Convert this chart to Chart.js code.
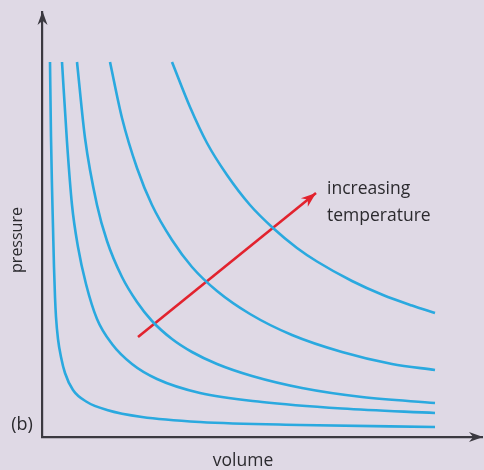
<!DOCTYPE html>
<html>
<head>
<meta charset="utf-8">
<script src="https://cdn.jsdelivr.net/npm/chart.js@4.4.1/dist/chart.umd.min.js"></script>
<style>
  html, body { margin: 0; padding: 0; background: #dfd9e5; }
  canvas { display: block; }
</style>
</head>
<body>
<canvas id="isotherms" width="484" height="470"></canvas>
<script>
// volume / pressure readings for each isotherm, coolest first
var iso1V = [8, 9, 10, 11, 12, 13, 14, 16, 19, 23, 31, 45, 65, 100, 158, 258, 393];
var iso1P = [375, 300, 250, 210, 170, 140, 120, 98, 80, 64, 47, 35, 27, 20, 15, 12, 10];
var iso2V = [20, 25, 30, 36, 44, 55, 70, 90, 115, 158, 220, 300, 393];
var iso2P = [375, 295, 232, 190, 153, 118, 93, 73, 58, 44, 35, 28.5, 24];
var iso3V = [35, 43, 55, 65, 80, 95, 110, 130, 150, 175, 210, 260, 320, 393];
var iso3P = [375, 299, 232, 196, 160, 135, 116, 98, 85, 73, 61, 49, 40, 34];
var iso4V = [68, 80, 95, 110, 130, 150, 175, 208, 250, 300, 350, 393];
var iso4P = [375, 319, 269, 232, 197, 170, 146, 123, 102, 85, 73, 67];
var iso5V = [130, 148, 165, 185, 208, 231, 255, 275, 310, 341, 370, 393];
var iso5P = [375, 330, 294, 262, 232, 209, 189, 175.5, 156, 142, 131.5, 124];

// "increasing temperature" arrow
var arrowV = [96, 274];
var arrowP = [100, 244];

var axisColor = '#3b3940';
var curveColor = '#2aa9df';
var arrowColor = '#e2232e';
var textColor = '#2b2a2e';

function pts(v, p) {
    return v.map(function (x, i) { return { x: x, y: p[i] }; });
}

function curve(v, p) {
    return {
        data: pts(v, p),
        showLine: true,
        borderColor: curveColor,
        borderWidth: 2.6,
        pointRadius: 0,
        cubicInterpolationMode: 'monotone',
        fill: false
    };
}

function head(ctx, x, y, ang, len, wid, color) {
    ctx.save();
    ctx.translate(x, y);
    ctx.rotate(ang);
    ctx.fillStyle = color;
    ctx.beginPath();
    ctx.moveTo(0, 0);
    ctx.lineTo(-len, -wid / 2);
    ctx.lineTo(-len * 0.7, 0);
    ctx.lineTo(-len, wid / 2);
    ctx.closePath();
    ctx.fill();
    ctx.restore();
}

var decor = {
    id: 'decor',
    beforeDraw: function (chart) {
        var ctx = chart.ctx;
        ctx.save();
        ctx.fillStyle = '#dfd9e5';
        ctx.fillRect(0, 0, chart.width, chart.height);
        ctx.restore();
    },
    afterDraw: function (chart) {
        var ctx = chart.ctx;
        var a = chart.chartArea;
        var xs = chart.scales.x, ys = chart.scales.y;

        // axis arrow heads
        head(ctx, a.left + 0.5, a.top - 1, -Math.PI / 2, 14, 10, axisColor);
        head(ctx, a.right + 1, a.bottom, 0, 14, 10, axisColor);

        // red arrow head
        var meta = chart.getDatasetMeta(5);
        var p0 = meta.data[0], p1 = meta.data[1];
        var ang = Math.atan2(p1.y - p0.y, p1.x - p0.x);
        head(ctx, p1.x, p1.y, ang, 15, 11, arrowColor);

        ctx.save();
        ctx.fillStyle = textColor;
        ctx.font = '17.5px "Open Sans"';
        ctx.textBaseline = 'middle';
        ctx.textAlign = 'left';
        ctx.fillText('increasing', xs.getPixelForValue(285), ys.getPixelForValue(248));
        ctx.fillText('temperature', xs.getPixelForValue(285), ys.getPixelForValue(221));

        ctx.textAlign = 'center';
        ctx.fillText('volume', xs.getPixelForValue(201), a.bottom + 24);
        ctx.font = '18px "Open Sans"';
        ctx.fillText('(b)', a.left - 20, ys.getPixelForValue(12));

        ctx.translate(a.left - 25, ys.getPixelForValue(197));
        ctx.rotate(-Math.PI / 2);
        ctx.font = '16px "Open Sans"';
        ctx.fillText('pressure', 0, 0);
        ctx.restore();
    }
};

var ctx = document.getElementById('isotherms').getContext('2d');
var chart = new Chart(ctx, {
    type: 'scatter',
    data: {
        datasets: [
            curve(iso1V, iso1P),
            curve(iso2V, iso2P),
            curve(iso3V, iso3P),
            curve(iso4V, iso4P),
            curve(iso5V, iso5P),
            {
                data: pts(arrowV, arrowP),
                showLine: true,
                borderColor: arrowColor,
                borderWidth: 2.6,
                pointRadius: 0,
                fill: false
            }
        ]
    },
    options: {
        responsive: false,
        animation: false,
        devicePixelRatio: 1,
        layout: { padding: { left: 42, right: 2, top: 12, bottom: 33 } },
        plugins: { legend: { display: false }, tooltip: { enabled: false } },
        scales: {
            x: {
                type: 'linear', min: 0, max: 440,
                grid: { display: false, drawTicks: false },
                ticks: { display: false },
                border: { display: true, color: axisColor, width: 2.2 }
            },
            y: {
                type: 'linear', min: 0, max: 425,
                grid: { display: false, drawTicks: false },
                ticks: { display: false },
                border: { display: true, color: axisColor, width: 2.2 }
            }
        }
    },
    plugins: [decor]
});
</script>
</body>
</html>
